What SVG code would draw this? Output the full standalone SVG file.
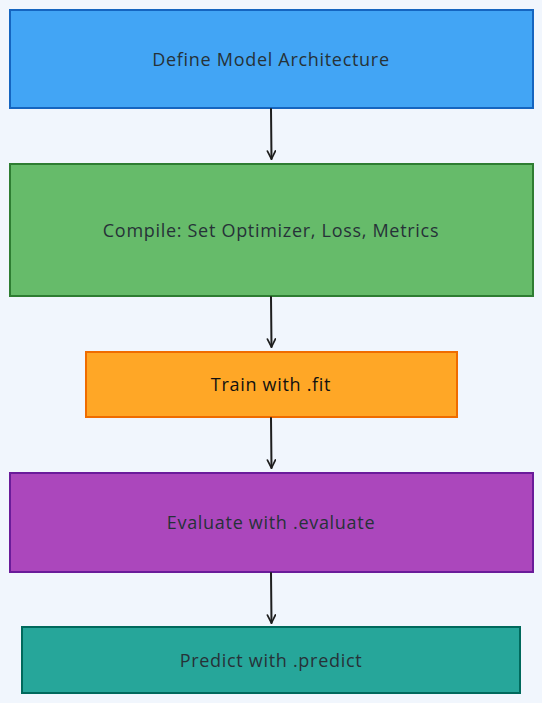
<svg xmlns="http://www.w3.org/2000/svg" width="542" height="703" viewBox="0 0 542 703">
<defs>
<marker id="ah" viewBox="0 0 10 10" refX="9" refY="5" markerWidth="10" markerHeight="10" markerUnits="userSpaceOnUse" orient="auto">
<path d="M1,1 L9,5 L1,9" fill="none" stroke="#1e1e1e" stroke-width="1.7" stroke-linecap="round" stroke-linejoin="round"/>
</marker>
</defs>
<style>
.bg{fill:#f1f6fd}
.box{stroke-width:2}
.lbl{font-family:"Open Sans","Liberation Sans",sans-serif;font-size:18px;letter-spacing:0.7px;fill:#263238;text-anchor:middle;dominant-baseline:central}
.edge{stroke:#1e1e1e;stroke-width:2;fill:none;stroke-linecap:round}
</style>
<rect class="bg" x="0" y="0" width="542" height="703"/>
<g id="n1">
<rect class="box" x="10" y="10" width="523" height="98" fill="#42a5f5" stroke="#1565c0"/>
<text class="lbl" x="271" y="59">Define Model Architecture</text>
</g>
<g id="n2">
<rect class="box" x="10" y="164" width="523" height="132" fill="#66bb6a" stroke="#2e7d32"/>
<text class="lbl" x="271" y="230">Compile: Set Optimizer, Loss, Metrics</text>
</g>
<g id="n3">
<rect class="box" x="86" y="352" width="371" height="65" fill="#ffa726" stroke="#ef6c00"/>
<text class="lbl" x="271" y="384" style="fill:#111">Train with .fit</text>
</g>
<g id="n4">
<rect class="box" x="10" y="473" width="523" height="99" fill="#ab47bc" stroke="#6a1b9a"/>
<text class="lbl" x="271" y="522">Evaluate with .evaluate</text>
</g>
<g id="n5">
<rect class="box" x="22" y="627" width="498" height="66" fill="#26a69a" stroke="#00695c"/>
<text class="lbl" x="271" y="660">Predict with .predict</text>
</g>
<g id="edges">
<path class="edge" d="M271,109 L271.5,159" marker-end="url(#ah)"/>
<path class="edge" d="M271,297 L271.5,347" marker-end="url(#ah)"/>
<path class="edge" d="M271,418 L271.5,468" marker-end="url(#ah)"/>
<path class="edge" d="M271,573 L271.5,623" marker-end="url(#ah)"/>
</g>
</svg>
